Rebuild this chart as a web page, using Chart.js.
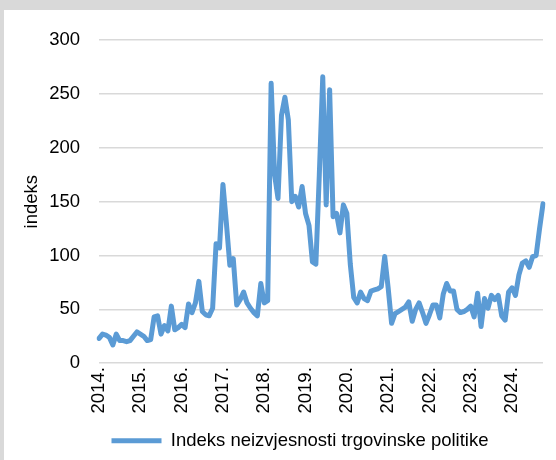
<!DOCTYPE html>
<html lang="hr">
<head>
<meta charset="UTF-8" />
<title>Indeks neizvjesnosti trgovinske politike</title>
<script src="https://cdn.jsdelivr.net/npm/chart.js@4.4.1/dist/chart.umd.min.js"></script>
<style>
    body { margin: 0; background: #d9d9d9; }
    .chart-box { position: absolute; left: 4px; top: 10px; width: 552px; height: 450px; background: #fff; }
</style>
</head>
<body>
<div class="chart-box"><canvas id="tpuChart"></canvas></div>
<script>
    // godine na osi x (oznaka samo za siječanj)
    const years = [2014, 2015, 2016, 2017, 2018, 2019, 2020, 2021, 2022, 2023, 2024];
    const monthsInLastYear = 10; // podaci do listopada 2024.

    // mjesečne vrijednosti indeksa, sij. 2014. - lis. 2024.
    const tpu2014 = [23, 27, 26, 24, 17, 27, 21, 21, 20, 21, 25, 29];
    const tpu2015 = [27, 25, 21, 22, 43, 44, 27, 35, 30, 53, 31, 33];
    const tpu2016 = [36, 33, 55, 47, 56, 76, 48, 45, 44, 51, 111, 107];
    const tpu2017 = [166, 130, 91, 97, 54, 59, 66, 56, 51, 47, 44, 74];
    const tpu2018 = [56, 58, 260, 175, 153, 230, 247, 226, 150, 155, 145, 164];
    const tpu2019 = [139, 128, 94, 92, 175, 266, 147, 254, 136, 139, 121, 147];
    const tpu2020 = [139, 92, 61, 56, 66, 60, 58, 67, 68, 69, 71, 99];
    const tpu2021 = [70, 37, 46, 48, 50, 52, 57, 39, 50, 56, 47, 37];
    const tpu2022 = [45, 54, 54, 42, 64, 74, 67, 67, 50, 47, 48, 50];
    const tpu2023 = [53, 43, 65, 34, 60, 51, 63, 59, 63, 44, 40, 66];
    const tpu2024 = [70, 63, 82, 93, 95, 89, 99, 100, 125, 148];

    const seriesName = 'Indeks neizvjesnosti trgovinske politike';
    const yTitle = 'indeks';
    const yMin = 0, yMax = 300, yStep = 50;

    const tpuValues = [].concat(tpu2014, tpu2015, tpu2016, tpu2017, tpu2018, tpu2019,
        tpu2020, tpu2021, tpu2022, tpu2023, tpu2024);

    const labels = [];
    years.forEach((y, i) => {
        const n = i === years.length - 1 ? monthsInLastYear : 12;
        for (let m = 0; m < n; m++) labels.push(m === 0 ? y + '.' : '');
    });

    const FONT = { family: '"Liberation Sans", Arial, sans-serif', size: 18.5 };

    // legenda u Excelu nije centrirana na platno, malo je pomaknuta udesno
    const shiftLegend = {
        id: 'shiftLegend',
        afterLayout(chart) {
            chart.legend.left += 20;
            chart.legend.right += 20;
        }
    };

    new Chart(document.getElementById('tpuChart'), {
        type: 'line',
        data: {
            labels: labels,
            datasets: [{
                label: seriesName,
                data: tpuValues,
                borderColor: '#5b9bd5',
                backgroundColor: '#5b9bd5',
                borderWidth: 5,
                borderCapStyle: 'round',
                borderJoinStyle: 'round',
                pointRadius: 0,
                tension: 0,
                fill: false
            }]
        },
        options: {
            responsive: true,
            maintainAspectRatio: false,
            animation: false,
            layout: { padding: { left: 13, top: 29, right: 13, bottom: 0 } },
            scales: {
                x: {
                    grid: { display: false, drawTicks: false },
                    border: { display: false },
                    afterFit(scale) {
                        scale.height += 10;
                        scale.paddingRight = 0;
                    },
                    ticks: {
                        autoSkip: false,
                        minRotation: 90,
                        maxRotation: 90,
                        padding: 4,
                        color: '#000',
                        font: FONT
                    }
                },
                y: {
                    min: yMin,
                    max: yMax,
                    grid: { color: '#d9d9d9', lineWidth: 1.5, drawTicks: false },
                    border: { display: false },
                    afterFit(scale) { scale.width -= 17; },
                    ticks: { stepSize: yStep, padding: 19, color: '#000', font: FONT },
                    title: { display: true, text: yTitle, color: '#000', font: FONT, padding: { top: 4, bottom: 4 } }
                }
            },
            plugins: {
                legend: {
                    position: 'bottom',
                    labels: {
                        usePointStyle: true,
                        pointStyle: 'line',
                        pointStyleWidth: 50,
                        padding: 4,
                        color: '#000',
                        font: FONT
                    }
                },
                tooltip: { enabled: false }
            }
        },
        plugins: [shiftLegend]
    });
</script>
</body>
</html>
